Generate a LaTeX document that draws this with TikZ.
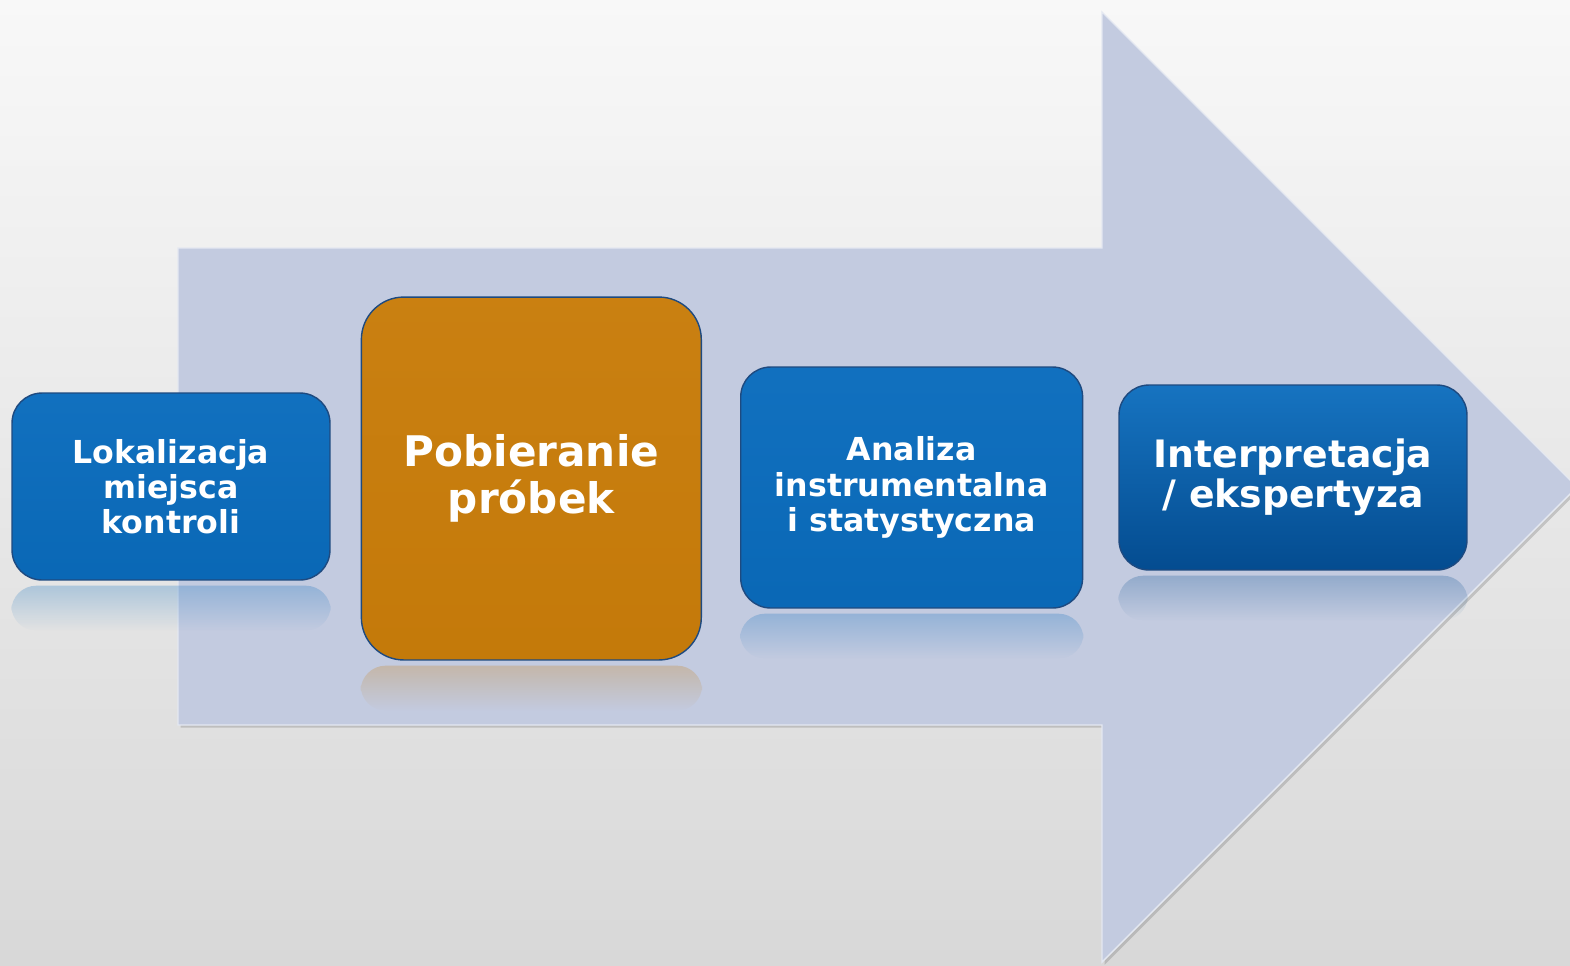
\documentclass[tikz,border=0pt]{standalone}
\usepackage{fontspec}
\setmainfont{DejaVu Sans}
\usetikzlibrary{positioning,shadows,fadings}

\definecolor{tlogora}{HTML}{F8F8F8}
\definecolor{tlodol}{HTML}{D8D8D8}
\definecolor{strzalka}{HTML}{C3CBE0}
\definecolor{niebieski}{HTML}{0A6CBD}
\definecolor{granat}{HTML}{044C90}
\definecolor{pomarancz}{HTML}{C87C0A}
\definecolor{ramka}{HTML}{1E4A80}

\begin{document}
\begin{tikzpicture}[x=0.02cm, y=-0.02cm]
  % definicja stylow
  \tikzset{
   etap/.style={
           rectangle,
           rounded corners=0.6cm,
           draw=ramka,
           line width=0.8pt,
           text=white,
           align=center,
           inner sep=0pt,
           font=\bfseries\fontsize{18}{20}\selectfont},
   % niebieskie etapy
   etapn/.style={
           etap,
           top color=niebieski!97!white,
           bottom color=niebieski!96!black},
   % wyrozniony etap
   etapp/.style={
           etap,
           rounded corners=0.85cm,
           top color=pomarancz!97!white,
           bottom color=pomarancz!98!black,
           font=\bfseries\fontsize{24}{27}\selectfont},
   % ostatni etap
   etapg/.style={
           etap,
           top color=niebieski!95!white,
           bottom color=granat,
           font=\bfseries\fontsize{21.5}{23}\selectfont},
   odbicie/.style={
           opacity=0.25,
           path fading=south,
           rounded corners=0.5cm}
  }

  \useasboundingbox (0,0) rectangle (1570,965);
  \clip (0,0) rectangle (1570,965);
  \shade[top color=tlogora, bottom color=tlodol] (0,0) rectangle (1570,965);

  % strzalka w tle
  \draw[fill=strzalka, draw=white!55!strzalka, line width=0.8pt,
        drop shadow={shadow xshift=1.5pt, shadow yshift=-1.5pt, opacity=0.35}]
    (178,248) -- (1102,248) -- (1102,12) -- (1577,487) -- (1102,962)
    -- (1102,725) -- (178,725) -- cycle;

  % etapy
  \node[etapn, minimum width=6.36cm, minimum height=3.74cm] (lok) at (171,486.5)
       {Lokalizacja\\miejsca\\kontroli};
  \node[etapp, minimum width=6.8cm, minimum height=7.26cm, right=0.6cm of lok,
        yshift=0.16cm] (pob) {Pobieranie\\próbek};
  \node[etapn, minimum width=6.84cm, minimum height=4.82cm, right=0.76cm of pob,
        yshift=-0.18cm] (ana) {Analiza\\instrumentalna\\i statystyczna};
  \node[etapg, minimum width=6.96cm, minimum height=3.7cm, right=0.7cm of ana,
        yshift=0.2cm] (int) {Interpretacja\\/ ekspertyza};

  % odbicia
  \foreach \n/\k in {lok/niebieski, pob/pomarancz, ana/niebieski, int/granat}
    \fill[\k, odbicie] ([yshift=-0.1cm]\n.south west) rectangle ([yshift=-1cm]\n.south east);
\end{tikzpicture}
\end{document}
